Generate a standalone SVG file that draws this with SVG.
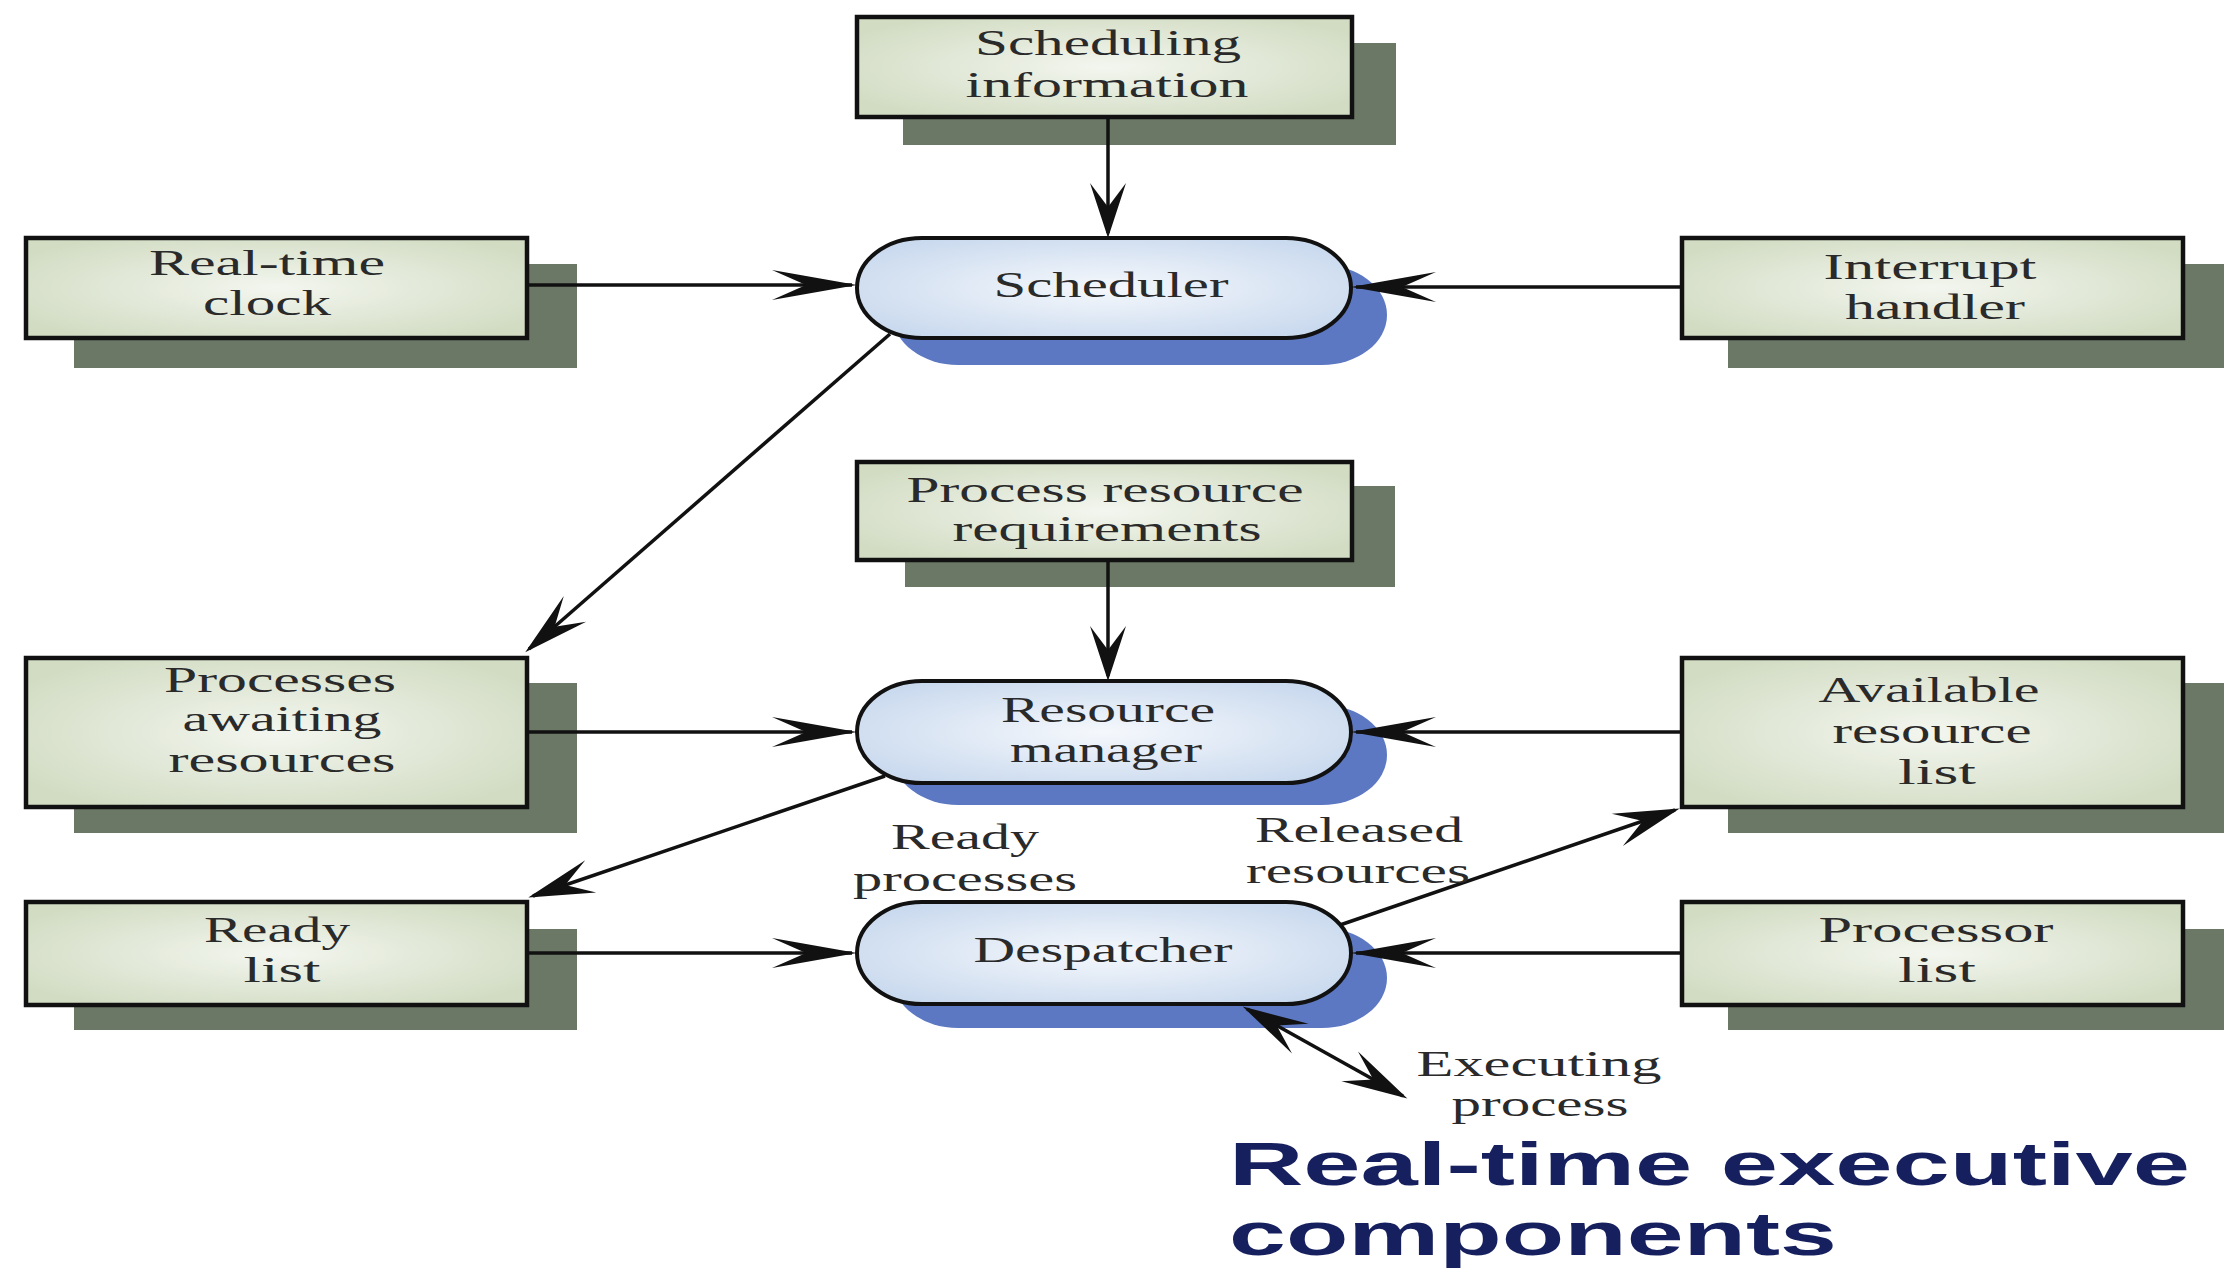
<svg xmlns="http://www.w3.org/2000/svg" width="2224" height="1271" viewBox="0 0 2224 1271">
<style>
.bg{fill:#ffffff}
.shadow{fill:#6b7866}
.box{fill:url(#boxFill);stroke:#111;stroke-width:4.5}
.pshadow{fill:#5d78c2}
.proc{fill:url(#procFill);stroke:#111;stroke-width:4}
.t{font-family:"Liberation Serif","Times New Roman",serif;font-size:35px;fill:#2a2a2a;text-anchor:middle}
.title{font-family:"Liberation Sans",Arial,sans-serif;font-weight:bold;font-size:62px;fill:#17205e}
.conn{fill:none;stroke:#111;stroke-width:3.5}
.ah{fill:#111}
</style>
<defs>
<radialGradient id="boxFill" cx="50%" cy="50%" r="60%">
<stop offset="0%" stop-color="#f3f6ef"/>
<stop offset="100%" stop-color="#d2dcc3"/>
</radialGradient>
<radialGradient id="procFill" cx="50%" cy="50%" r="60%">
<stop offset="0%" stop-color="#f5f8fc"/>
<stop offset="100%" stop-color="#c9d9ee"/>
</radialGradient>
<marker id="ahH" markerUnits="userSpaceOnUse" viewBox="-90 -18 98 36" refX="0" refY="0" markerWidth="98" markerHeight="36" orient="auto">
<path class="ah" d="M5,0 L-80,-15 L-46,0 L-80,15 Z"/>
</marker>
<marker id="ahV" markerUnits="userSpaceOnUse" viewBox="-60 -21 68 42" refX="0" refY="0" markerWidth="68" markerHeight="42" orient="auto">
<path class="ah" d="M5,0 L-50,-18 L-26,0 L-50,18 Z"/>
</marker>
<marker id="ahD" markerUnits="userSpaceOnUse" viewBox="-70 -20 78 40" refX="0" refY="0" markerWidth="78" markerHeight="40" orient="auto-start-reverse">
<path class="ah" d="M5,0 L-61,-17 L-34,0 L-61,17 Z"/>
</marker>
</defs>
<rect class="bg" x="0" y="0" width="2224" height="1271"/>

<g id="scheduling-information">
<rect class="shadow" x="903" y="43" width="493" height="102"/>
<rect class="box" x="857" y="17" width="495" height="100"/>
<text class="t" x="1108" y="55" textLength="266" lengthAdjust="spacingAndGlyphs">Scheduling</text>
<text class="t" x="1107" y="97" textLength="283" lengthAdjust="spacingAndGlyphs">information</text>
</g>

<g id="real-time-clock">
<rect class="shadow" x="74" y="264" width="503" height="104"/>
<rect class="box" x="26" y="238" width="501" height="100"/>
<text class="t" x="267" y="275" textLength="236" lengthAdjust="spacingAndGlyphs">Real-time</text>
<text class="t" x="267" y="315" textLength="128" lengthAdjust="spacingAndGlyphs">clock</text>
</g>

<g id="scheduler">
<rect class="pshadow" x="893" y="265" width="494" height="100" rx="65" ry="50"/>
<rect class="proc" x="857" y="238" width="494" height="100" rx="65" ry="50"/>
<text class="t" x="1111" y="297" textLength="235" lengthAdjust="spacingAndGlyphs">Scheduler</text>
</g>

<g id="interrupt-handler">
<rect class="shadow" x="1728" y="264" width="496" height="104"/>
<rect class="box" x="1682" y="238" width="501" height="100"/>
<text class="t" x="1930" y="279" textLength="213" lengthAdjust="spacingAndGlyphs">Interrupt</text>
<text class="t" x="1935" y="319" textLength="180" lengthAdjust="spacingAndGlyphs">handler</text>
</g>

<g id="process-resource-requirements">
<rect class="shadow" x="905" y="486" width="490" height="101"/>
<rect class="box" x="857" y="462" width="495" height="98"/>
<text class="t" x="1105" y="502" textLength="397" lengthAdjust="spacingAndGlyphs">Process resource</text>
<text class="t" x="1107" y="541" textLength="309" lengthAdjust="spacingAndGlyphs">requirements</text>
</g>

<g id="processes-awaiting-resources">
<rect class="shadow" x="74" y="683" width="503" height="150"/>
<rect class="box" x="26" y="658" width="501" height="149"/>
<text class="t" x="280" y="692" textLength="232" lengthAdjust="spacingAndGlyphs">Processes</text>
<text class="t" x="282" y="731" textLength="199" lengthAdjust="spacingAndGlyphs">awaiting</text>
<text class="t" x="282" y="772" textLength="227" lengthAdjust="spacingAndGlyphs">resources</text>
</g>

<g id="resource-manager">
<rect class="pshadow" x="893" y="705" width="494" height="100" rx="65" ry="50"/>
<rect class="proc" x="857" y="681" width="494" height="102" rx="65" ry="51"/>
<text class="t" x="1108" y="722" textLength="214" lengthAdjust="spacingAndGlyphs">Resource</text>
<text class="t" x="1106" y="762" textLength="192" lengthAdjust="spacingAndGlyphs">manager</text>
</g>

<g id="available-resource-list">
<rect class="shadow" x="1728" y="683" width="496" height="150"/>
<rect class="box" x="1682" y="658" width="501" height="149"/>
<text class="t" x="1929" y="702" textLength="221" lengthAdjust="spacingAndGlyphs">Available</text>
<text class="t" x="1932" y="743" textLength="199" lengthAdjust="spacingAndGlyphs">resource</text>
<text class="t" x="1937" y="784" textLength="78" lengthAdjust="spacingAndGlyphs">list</text>
</g>

<g id="ready-list">
<rect class="shadow" x="74" y="929" width="503" height="101"/>
<rect class="box" x="26" y="902" width="501" height="103"/>
<text class="t" x="277" y="942" textLength="146" lengthAdjust="spacingAndGlyphs">Ready</text>
<text class="t" x="282" y="982" textLength="77" lengthAdjust="spacingAndGlyphs">list</text>
</g>

<g id="despatcher">
<rect class="pshadow" x="893" y="928" width="494" height="100" rx="65" ry="50"/>
<rect class="proc" x="857" y="902" width="494" height="102" rx="65" ry="51"/>
<text class="t" x="1103" y="962" textLength="259" lengthAdjust="spacingAndGlyphs">Despatcher</text>
</g>

<g id="processor-list">
<rect class="shadow" x="1728" y="929" width="496" height="101"/>
<rect class="box" x="1682" y="902" width="501" height="103"/>
<text class="t" x="1936" y="942" textLength="235" lengthAdjust="spacingAndGlyphs">Processor</text>
<text class="t" x="1937" y="982" textLength="78" lengthAdjust="spacingAndGlyphs">list</text>
</g>

<g id="connectors">
<path class="conn" d="M1108,117 V233" marker-end="url(#ahV)"/>
<path class="conn" d="M527,285 H852" marker-end="url(#ahH)"/>
<path class="conn" d="M1682,287 H1356" marker-end="url(#ahH)"/>
<path class="conn" d="M890,334 L529,649" marker-end="url(#ahD)"/>
<path class="conn" d="M1108,560 V676" marker-end="url(#ahV)"/>
<path class="conn" d="M527,732 H852" marker-end="url(#ahH)"/>
<path class="conn" d="M1682,732 H1356" marker-end="url(#ahH)"/>
<path class="conn" d="M885,776 L533,896" marker-end="url(#ahD)"/>
<path class="conn" d="M527,953 H852" marker-end="url(#ahH)"/>
<path class="conn" d="M1340,925 L1675,810" marker-end="url(#ahD)"/>
<path class="conn" d="M1682,953 H1356" marker-end="url(#ahH)"/>
<path class="conn" d="M1247,1009 L1403,1096" marker-start="url(#ahD)" marker-end="url(#ahD)"/>
</g>

<g id="labels">
<text class="t" x="965" y="849" textLength="148" lengthAdjust="spacingAndGlyphs">Ready</text>
<text class="t" x="965" y="891" textLength="224" lengthAdjust="spacingAndGlyphs">processes</text>
<text class="t" x="1359" y="842" textLength="208" lengthAdjust="spacingAndGlyphs">Released</text>
<text class="t" x="1358" y="883" textLength="224" lengthAdjust="spacingAndGlyphs">resources</text>
<text class="t" x="1539" y="1076" textLength="245" lengthAdjust="spacingAndGlyphs">Executing</text>
<text class="t" x="1540" y="1116" textLength="177" lengthAdjust="spacingAndGlyphs">process</text>
</g>

<g id="title">
<text class="title" x="1229" y="1185" textLength="961" lengthAdjust="spacingAndGlyphs">Real-time executive</text>
<text class="title" x="1229" y="1255" textLength="608" lengthAdjust="spacingAndGlyphs">components</text>
</g>
</svg>
